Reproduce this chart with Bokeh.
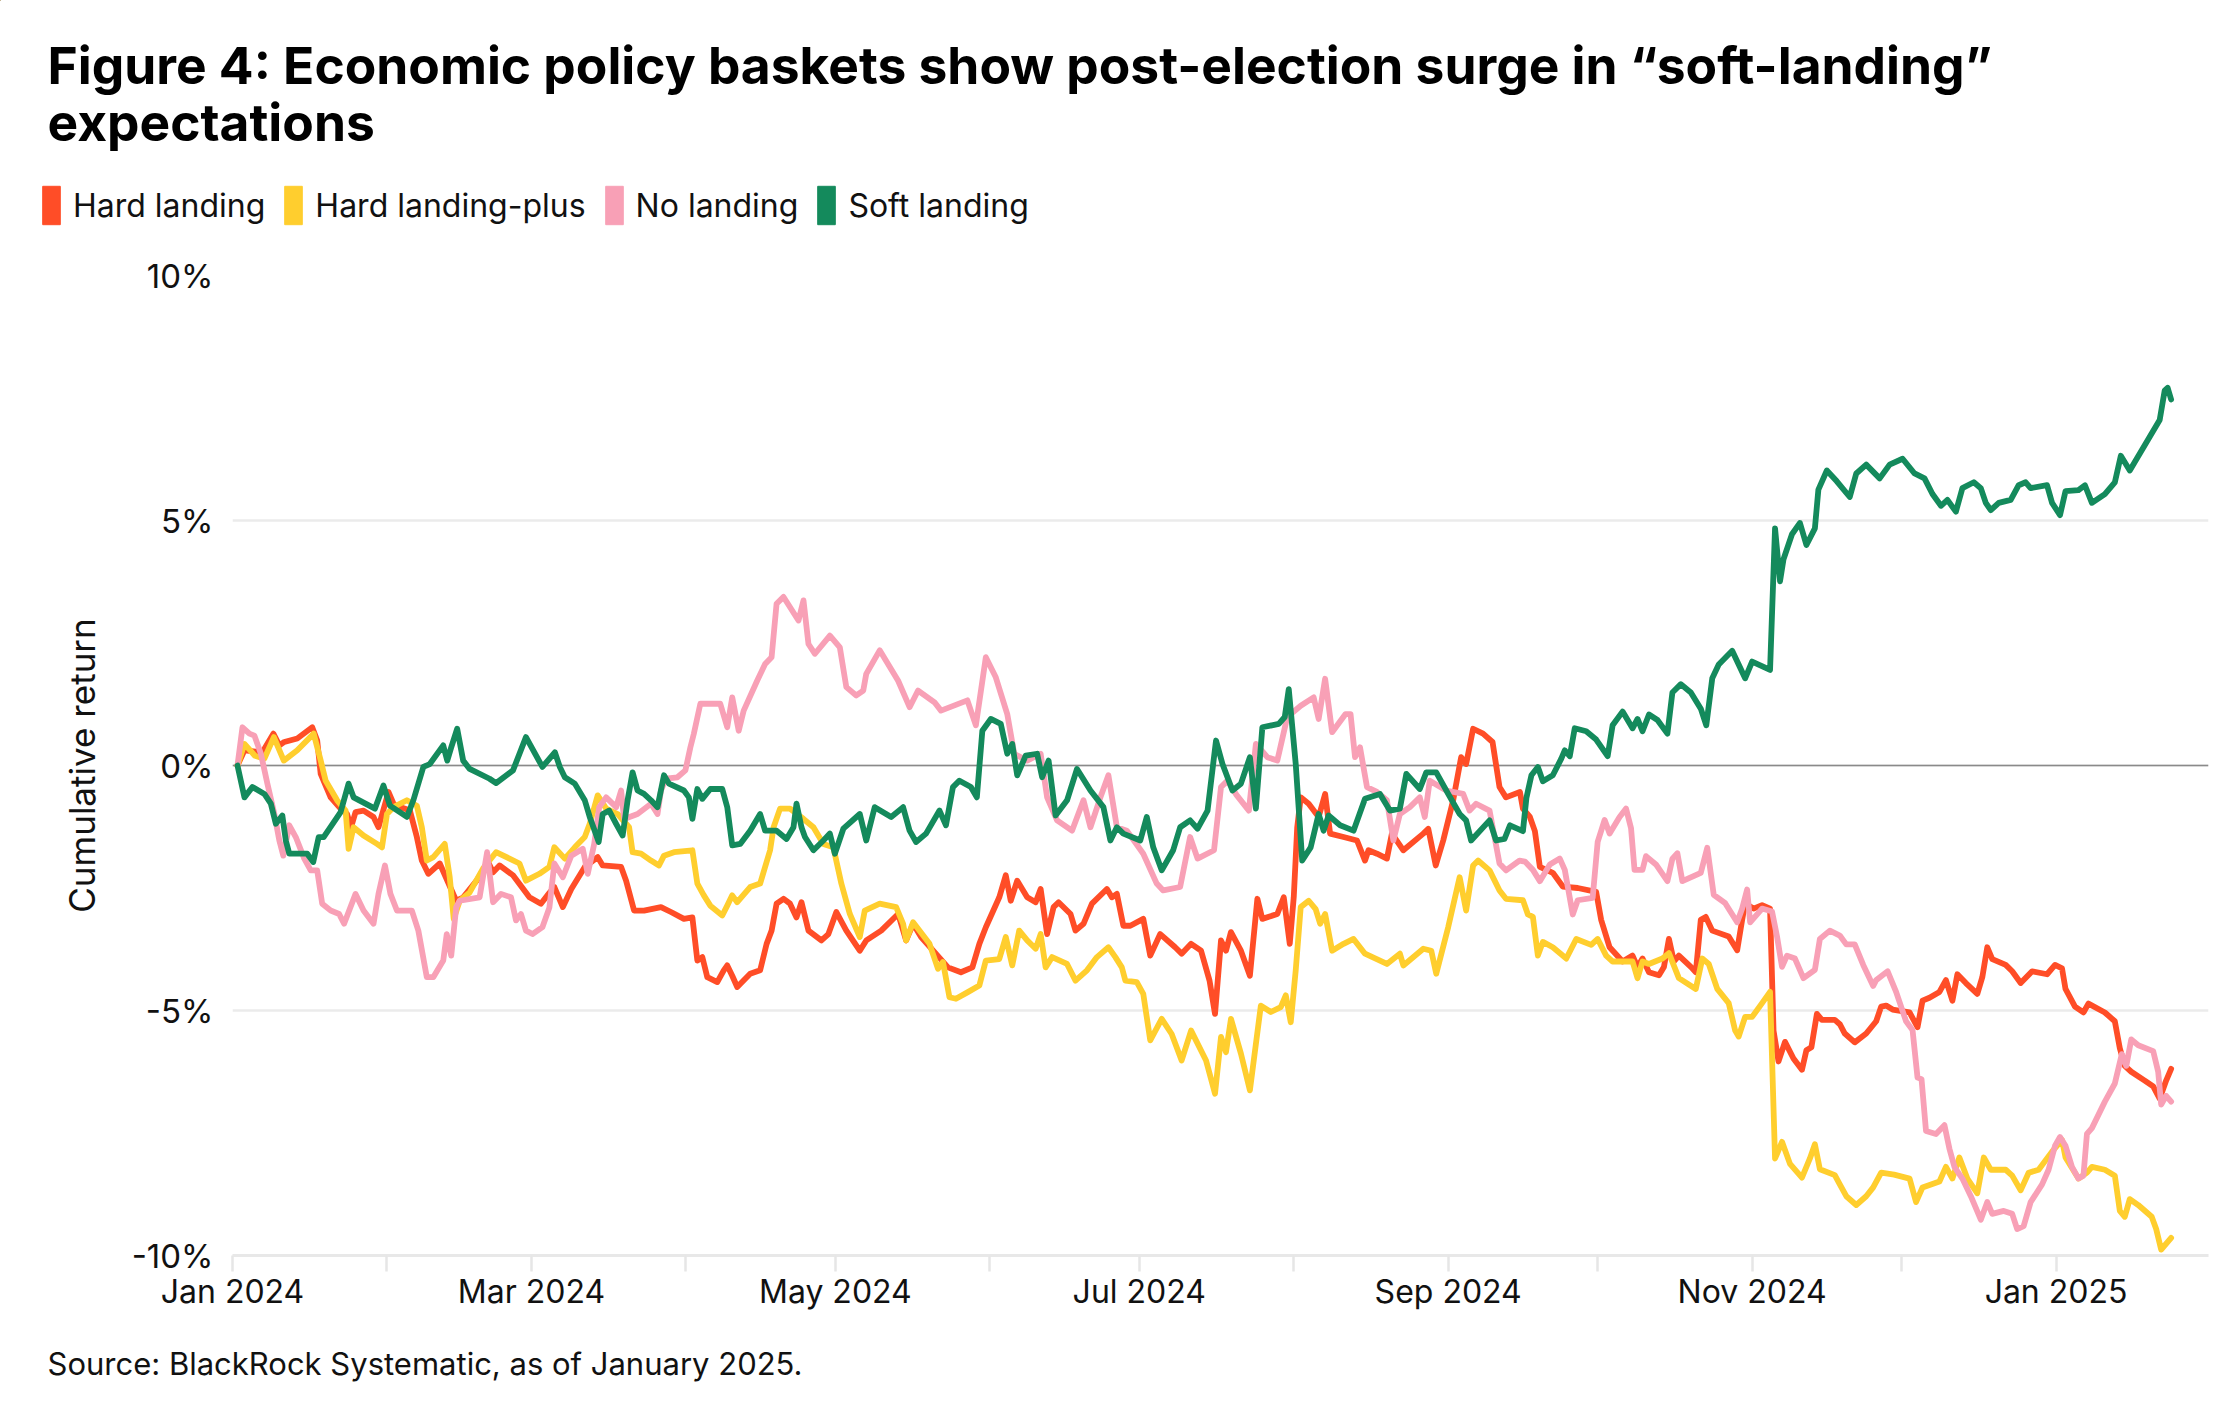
import pandas as pd
from bokeh.plotting import figure
from bokeh.layouts import column
from bokeh.models import (Range1d, FixedTicker, DatetimeTickFormatter, PrintfTickFormatter,
                          Span, Label, Legend, LegendItem, ColumnDataSource)
from bokeh.embed import file_html
from bokeh.resources import INLINE

# ---------------- data: (days since 2024-01-01, cumulative return %) ----------------
hard_landing = [
    (1, 0.0), (2.4, 0.31), (6.0, 0.27), (8.2, 0.65), (9.4, 0.41), (10.4, 0.48), (13, 0.55), (16.0, 0.78),
    (17.0, 0.51), (17.7, -0.17), (19.7, -0.65), (21.7, -0.88), (23.0, -0.99), (23.8, -1.26), (24.7, -0.95),
    (26.3, -0.92), (28.3, -1.05), (29.3, -1.26), (31.3, -0.54), (32.4, -0.8), (35.6, -0.92), (37.0, -1.46),
    (38.0, -1.94), (39.3, -2.21), (41.6, -2.0), (44.9, -2.76), (46.3, -2.69), (49.0, -2.35), (51.3, -1.97),
    (52.3, -2.18), (53.6, -2.04), (56.3, -2.24), (59.6, -2.69), (61.9, -2.82), (63.6, -2.6), (64.6, -2.48),
    (66.3, -2.89), (68.0, -2.52), (70.7, -2.07), (73.3, -1.87), (74.3, -2.04), (78.0, -2.07), (79.0, -2.35),
    (80.6, -2.96), (82.6, -2.96), (86.0, -2.89), (88.0, -2.99), (90.6, -3.13), (92.3, -3.1), (93.3, -3.98),
    (94.3, -3.91), (95.3, -4.32), (97.3, -4.42), (98.6, -4.18), (99.3, -4.08), (100.3, -4.29), (101.3, -4.52),
    (103.9, -4.25), (105.9, -4.18), (107.2, -3.64), (108.2, -3.37), (109.2, -2.82), (110.6, -2.72),
    (111.9, -2.82), (113.2, -3.1), (114.2, -2.79), (115.6, -3.37), (118.2, -3.57), (119.6, -3.44),
    (121.2, -2.99), (123.2, -3.37), (125.9, -3.78), (127.2, -3.57), (130.2, -3.37), (133.6, -3.03),
    (135.2, -3.57), (136.6, -3.23), (138.2, -3.5), (140.9, -3.81), (143.6, -4.12), (146.2, -4.22),
    (148.5, -4.12), (149.9, -3.64), (151.2, -3.3), (153.9, -2.69), (155.2, -2.24), (156.2, -2.76),
    (157.5, -2.35), (159.5, -2.69), (161.2, -2.79), (162.2, -2.52), (163.5, -3.44), (164.8, -2.89),
    (165.8, -2.79), (168.2, -3.03), (169.2, -3.37), (170.8, -3.23), (172.5, -2.82), (175.5, -2.52),
    (176.5, -2.69), (177.5, -2.62), (178.8, -3.27), (180.2, -3.27), (182.8, -3.13), (184.2, -3.88),
    (186.2, -3.44), (189.2, -3.71), (190.5, -3.84), (192.4, -3.64), (194.4, -3.78), (196.1, -4.39),
    (197.2, -5.07), (198.4, -3.57), (199.4, -3.78), (200.4, -3.4), (202.4, -3.78), (204.2, -4.29),
    (205.7, -2.72), (206.7, -3.13), (209.7, -3.03), (211.0, -2.69), (212.2, -3.64), (213.0, -2.69),
    (213.7, -1.26), (214.4, -0.65), (216.0, -0.78), (218.0, -1.05), (219.3, -0.58), (220.3, -1.39),
    (223.0, -1.46), (225.7, -1.53), (227.3, -1.94), (228.0, -1.73), (229.7, -1.8), (231.7, -1.9),
    (232.7, -1.39), (235.0, -1.73), (239.0, -1.39), (240.0, -1.29), (241.5, -2.04), (243.0, -1.53),
    (245.0, -0.71), (246.6, 0.17), (247.6, 0.03), (249.0, 0.75), (251.0, 0.65), (252.9, 0.48),
    (254.3, -0.44), (255.6, -0.65), (258.4, -0.54), (259.0, -0.88), (260.4, -1.05), (261.4, -1.34),
    (262.4, -2.07), (265.0, -2.19), (267.0, -2.47), (270.0, -2.5), (273.7, -2.58), (274.7, -3.15),
    (276.4, -3.71), (279.0, -4.0), (281.0, -3.88), (282.0, -4.11), (283.0, -3.94), (284.3, -4.22),
    (286.3, -4.28), (287.3, -4.11), (288.3, -3.54), (289.3, -4.0), (290.3, -3.88), (292.7, -4.11),
    (293.7, -4.22), (294.7, -3.15), (295.7, -3.09), (297.0, -3.37), (300.3, -3.49), (302.0, -3.77),
    (303.0, -3.15), (303.6, -2.81), (305.3, -2.92), (307.0, -2.85), (308.6, -2.92), (309.3, -5.41),
    (310.3, -6.04), (311.6, -5.64), (313.3, -5.98), (315.0, -6.21), (315.9, -5.81), (316.9, -5.75),
    (318.0, -5.07), (319.0, -5.19), (321.6, -5.19), (322.6, -5.28), (323.6, -5.47), (325.6, -5.65),
    (327.9, -5.47), (329.9, -5.22), (330.9, -4.92), (331.9, -4.9), (333.2, -4.98), (336.6, -5.04),
    (338.2, -5.34), (339.2, -4.8), (340.6, -4.74), (342.6, -4.62), (343.9, -4.38), (345.2, -4.8),
    (346.2, -4.26), (347.9, -4.44), (350.2, -4.66), (351.2, -4.32), (352.2, -3.71), (353.2, -3.95),
    (355.9, -4.07), (357.2, -4.2), (358.9, -4.44), (361.2, -4.2), (364.2, -4.26), (365.8, -4.07),
    (367.2, -4.14), (367.9, -4.56), (369.8, -4.92), (371.5, -5.04), (372.5, -4.86), (375.8, -5.04),
    (377.8, -5.22), (378.8, -5.77), (379.8, -6.13), (381.1, -6.25), (383.8, -6.43), (385.5, -6.55),
    (386.8, -6.8), (388.1, -6.43), (389.1, -6.19),
]

hard_landing_plus = [
    (1, 0.0), (2.4, 0.44), (4.5, 0.2), (6.4, 0.14), (8.3, 0.58), (10.3, 0.1), (13.0, 0.31), (16.3, 0.65),
    (17.7, 0.1), (18.7, -0.31), (21.0, -0.71), (22.7, -0.92), (23.3, -1.7), (24.3, -1.26), (26.3, -1.43),
    (29.0, -1.6), (30.0, -1.67), (31.0, -0.99), (32.3, -0.85), (35.0, -0.71), (37.0, -0.82), (38.0, -1.26),
    (39.0, -1.94), (40.3, -1.87), (42.6, -1.6), (43.6, -2.28), (44.4, -3.13), (45.6, -2.76), (47.6, -2.59),
    (50.3, -2.1), (52.9, -1.77), (55.6, -1.9), (57.6, -2.0), (58.9, -2.35), (61.6, -2.21), (63.6, -2.07),
    (64.6, -1.67), (66.7, -1.9), (68.7, -1.67), (70.7, -1.46), (71.7, -1.19), (73.3, -0.61), (75.0, -0.88),
    (77.3, -0.99), (79.6, -1.26), (80.3, -1.77), (82.0, -1.8), (84.0, -1.94), (85.6, -2.04), (86.6, -1.84),
    (88.6, -1.77), (92.3, -1.73), (93.3, -2.41), (94.6, -2.65), (95.9, -2.86), (98.3, -3.06), (99.3, -2.86),
    (100.3, -2.65), (101.3, -2.79), (103.9, -2.48), (105.9, -2.41), (107.9, -1.73), (108.6, -1.26),
    (109.9, -0.88), (111.9, -0.88), (114.6, -1.09), (116.6, -1.26), (118.6, -1.6), (120.6, -1.67),
    (122.2, -2.41), (123.9, -3.03), (125.9, -3.5), (126.9, -2.96), (129.9, -2.82), (133.2, -2.89),
    (134.6, -3.23), (135.2, -3.57), (136.6, -3.2), (139.9, -3.64), (141.6, -4.15), (142.6, -4.01),
    (143.9, -4.73), (145.2, -4.76), (147.5, -4.63), (149.9, -4.49), (151.2, -3.98), (153.9, -3.95),
    (155.2, -3.5), (156.5, -4.08), (157.9, -3.37), (159.5, -3.57), (161.2, -3.74), (162.2, -3.44),
    (163.2, -4.12), (164.5, -3.91), (167.5, -4.05), (169.2, -4.39), (171.5, -4.18), (173.5, -3.91),
    (175.8, -3.71), (177.2, -3.91), (178.5, -4.12), (179.2, -4.39), (181.5, -4.42), (182.8, -4.66),
    (184.2, -5.61), (186.5, -5.17), (188.5, -5.48), (190.5, -6.02), (192.4, -5.41), (195.4, -6.02),
    (197.2, -6.7), (198.4, -5.54), (199.4, -5.85), (200.4, -5.17), (202.4, -5.88), (204.2, -6.63),
    (206.4, -4.9), (208.4, -5.03), (210.4, -4.93), (211.4, -4.69), (212.4, -5.24), (213.4, -4.18),
    (214.4, -2.89), (216.0, -2.76), (217.4, -2.93), (218.3, -3.23), (219.3, -3.03), (220.7, -3.78),
    (223.0, -3.64), (225.0, -3.54), (227.3, -3.84), (231.7, -4.05), (234.3, -3.84), (235.0, -4.08),
    (239.0, -3.74), (240.6, -3.78), (241.6, -4.25), (244.0, -3.3), (246.3, -2.28), (247.6, -2.96),
    (249.0, -2.04), (250.0, -1.94), (252.3, -2.14), (254.3, -2.55), (255.6, -2.72), (259.0, -2.75),
    (260.0, -3.04), (261.0, -3.09), (262.0, -3.88), (263.0, -3.6), (265.0, -3.71), (267.7, -3.94),
    (269.7, -3.54), (272.7, -3.66), (274.0, -3.54), (275.7, -3.88), (277.0, -4.0), (281.0, -4.0),
    (282.0, -4.34), (283.0, -4.0), (284.3, -4.05), (287.0, -3.94), (288.3, -3.83), (290.3, -4.34),
    (293.7, -4.56), (295.0, -3.94), (296.3, -4.05), (298.0, -4.56), (300.3, -4.85), (301.6, -5.41),
    (302.3, -5.53), (303.6, -5.13), (305.0, -5.13), (307.0, -4.85), (308.6, -4.62), (309.6, -8.02),
    (311.0, -7.68), (312.6, -8.13), (315.0, -8.41), (316.6, -8.02), (317.6, -7.73), (318.6, -8.24),
    (321.6, -8.36), (322.6, -8.55), (323.9, -8.79), (325.9, -8.97), (327.9, -8.79), (329.3, -8.61),
    (330.9, -8.31), (333.5, -8.35), (336.6, -8.43), (337.9, -8.91), (339.2, -8.61), (342.6, -8.49),
    (343.9, -8.19), (345.2, -8.43), (346.6, -8.0), (348.2, -8.43), (350.2, -8.73), (351.5, -8.0),
    (352.9, -8.25), (355.9, -8.25), (357.2, -8.37), (358.9, -8.67), (360.5, -8.31), (362.5, -8.25),
    (365.2, -7.88), (367.2, -7.64), (367.9, -8.0), (370.5, -8.43), (372.2, -8.31), (373.2, -8.19),
    (375.8, -8.25), (377.8, -8.37), (378.8, -9.09), (379.8, -9.21), (380.8, -8.85), (382.5, -8.97),
    (385.2, -9.21), (386.1, -9.46), (387.1, -9.88), (389.1, -9.64),
]

no_landing = [
    (1, 0.0), (2.0, 0.78), (3.4, 0.65), (4.4, 0.61), (5.7, 0.24), (7.0, -0.37), (8.4, -0.99), (9.4, -1.53),
    (10.2, -1.84), (11.4, -1.22), (12.7, -1.46), (14.4, -1.9), (15.7, -2.14), (17.0, -2.14), (18.0, -2.82),
    (19.7, -2.96), (21.4, -3.03), (22.4, -3.23), (24.7, -2.62), (26.3, -2.96), (28.3, -3.23), (29.3, -2.62),
    (30.6, -2.04), (31.7, -2.62), (33.0, -2.96), (36.0, -2.96), (37.3, -3.37), (39.0, -4.32), (40.3, -4.32),
    (42.3, -3.98), (43.0, -3.44), (43.9, -3.88), (44.9, -2.89), (45.6, -2.76), (49.6, -2.69), (51.1, -1.77),
    (52.3, -2.79), (53.9, -2.62), (55.9, -2.69), (56.9, -3.16), (57.9, -3.03), (58.9, -3.37), (60.2, -3.44),
    (62.2, -3.3), (63.6, -2.9), (64.6, -2.0), (66.3, -2.28), (68.0, -1.84), (70.3, -1.7), (71.3, -2.21),
    (72.6, -1.6), (73.6, -0.85), (75.0, -0.65), (77.0, -0.85), (78.0, -0.51), (78.6, -1.09), (81.3, -0.99),
    (84.0, -0.78), (85.3, -0.99), (86.0, -0.51), (87.0, -0.27), (89.3, -0.24), (90.9, -0.1), (91.9, 0.37),
    (92.6, 0.65), (93.9, 1.26), (97.9, 1.26), (99.3, 0.78), (100.3, 1.39), (101.6, 0.71), (102.6, 1.12),
    (105.3, 1.73), (106.9, 2.07), (108.2, 2.21), (109.2, 3.3), (110.6, 3.44), (113.6, 2.96), (114.6, 3.37),
    (115.6, 2.48), (116.9, 2.28), (119.9, 2.65), (121.9, 2.41), (123.2, 1.6), (125.2, 1.43), (126.6, 1.53),
    (127.2, 1.87), (129.9, 2.35), (133.6, 1.73), (135.9, 1.19), (137.6, 1.53), (140.9, 1.29), (142.2, 1.12),
    (147.5, 1.33), (149.2, 0.82), (151.2, 2.21), (153.2, 1.8), (155.5, 1.05), (156.9, 0.24), (159.5, 0.1),
    (162.2, 0.24), (163.5, -0.65), (165.5, -1.12), (168.5, -1.33), (170.8, -0.71), (172.2, -1.26),
    (174.2, -0.65), (175.8, -0.2), (177.5, -1.26), (179.5, -1.33), (182.8, -1.8), (185.5, -2.41),
    (186.8, -2.55), (190.2, -2.48), (192.2, -1.46), (193.7, -1.9), (197.0, -1.73), (198.4, -0.44),
    (199.7, -0.31), (201.5, -0.6), (204.0, -0.92), (205.4, 0.44), (207.7, 0.17), (209.7, 0.1), (211.7, 0.99),
    (214.4, 1.22), (217.0, 1.39), (218.0, 0.95), (219.3, 1.77), (220.7, 0.68), (223.4, 1.05), (224.4, 1.05),
    (225.3, 0.17), (226.3, 0.37), (227.7, -0.44), (229.7, -0.54), (231.7, -0.71), (233.0, -1.53),
    (234.3, -0.99), (236.3, -0.85), (238.3, -0.65), (239.3, -1.05), (240.3, -0.31), (243.6, -0.51),
    (247.0, -0.58), (248.3, -0.92), (249.6, -0.78), (252.3, -0.92), (254.3, -2.0), (255.6, -2.14),
    (258.3, -1.94), (259.4, -1.96), (261.0, -2.13), (262.4, -2.36), (264.4, -2.02), (266.4, -1.9),
    (267.4, -2.13), (269.0, -3.04), (270.0, -2.75), (273.0, -2.7), (274.0, -1.56), (275.4, -1.11),
    (276.4, -1.39), (278.4, -1.05), (279.7, -0.88), (280.7, -1.28), (281.4, -2.13), (283.0, -2.13),
    (283.7, -1.85), (285.7, -2.02), (288.0, -2.36), (289.0, -1.9), (290.0, -1.79), (291.0, -2.36),
    (294.7, -2.19), (296.0, -1.68), (297.3, -2.64), (299.6, -2.81), (302.0, -3.2), (303.0, -2.92),
    (304.0, -2.53), (304.6, -3.2), (307.0, -2.92), (309.0, -2.98), (310.0, -3.49), (311.0, -4.11),
    (312.0, -3.88), (313.6, -3.94), (315.3, -4.34), (317.6, -4.17), (318.6, -3.54), (320.6, -3.37),
    (322.6, -3.47), (323.9, -3.65), (325.6, -3.65), (327.3, -4.07), (329.3, -4.5), (329.9, -4.38),
    (332.2, -4.2), (333.9, -4.62), (335.9, -5.22), (337.2, -5.4), (338.2, -6.37), (339.0, -6.4),
    (339.9, -7.46), (341.9, -7.52), (343.6, -7.34), (344.6, -7.82), (345.6, -8.19), (347.2, -8.43),
    (348.9, -8.79), (350.9, -9.27), (352.2, -8.91), (353.2, -9.15), (355.5, -9.09), (357.2, -9.15),
    (358.2, -9.46), (359.5, -9.4), (360.9, -8.91), (363.2, -8.55), (364.5, -8.25), (365.8, -7.76),
    (366.8, -7.58), (367.9, -7.76), (369.2, -8.19), (370.5, -8.43), (371.5, -8.37), (372.2, -7.52),
    (373.2, -7.4), (375.8, -6.86), (377.8, -6.49), (379.2, -5.89), (380.1, -6.13), (381.1, -5.59),
    (382.5, -5.71), (385.5, -5.83), (386.5, -6.25), (387.1, -6.92), (388.1, -6.74), (389.1, -6.86),
]

soft_landing = [
    (1, 0.0), (2.4, -0.65), (4.0, -0.44), (6.4, -0.58), (7.7, -0.78), (8.7, -1.19), (10.0, -1.02),
    (10.7, -1.53), (11.4, -1.8), (15.0, -1.8), (16.2, -1.97), (17.3, -1.46), (18.3, -1.46), (21.7, -0.95),
    (23.3, -0.37), (24.3, -0.65), (28.6, -0.88), (30.3, -0.41), (31.6, -0.82), (35.0, -1.05), (36.3, -0.71),
    (38.3, -0.03), (39.6, 0.03), (42.3, 0.41), (43.1, 0.1), (43.9, 0.37), (45.1, 0.75), (46.3, 0.1),
    (47.6, -0.07), (51.6, -0.27), (52.9, -0.36), (56.3, -0.1), (58.9, 0.58), (62.2, -0.03), (64.7, 0.27),
    (65.7, -0.03), (66.7, -0.24), (68.7, -0.37), (70.7, -0.71), (71.7, -1.05), (73.5, -1.56), (74.3, -0.99),
    (75.6, -0.92), (77.0, -1.19), (78.3, -1.43), (79.3, -0.71), (80.3, -0.14), (81.3, -0.51), (82.6, -0.58),
    (84.0, -0.71), (85.3, -0.85), (86.6, -0.2), (87.6, -0.37), (90.6, -0.51), (91.6, -0.65), (92.3, -1.09),
    (93.3, -0.48), (94.3, -0.68), (95.9, -0.48), (98.3, -0.48), (99.3, -0.85), (100.3, -1.63),
    (101.9, -1.6), (103.9, -1.33), (105.9, -0.99), (106.9, -1.33), (109.2, -1.33), (111.2, -1.5),
    (112.6, -1.26), (113.2, -0.78), (114.2, -1.26), (114.9, -1.46), (116.6, -1.73), (118.6, -1.53),
    (119.9, -1.39), (120.9, -1.8), (122.6, -1.29), (125.9, -0.99), (127.2, -1.53), (128.9, -0.85),
    (132.2, -1.05), (134.6, -0.85), (135.9, -1.33), (137.2, -1.56), (139.2, -1.39), (141.9, -0.92),
    (143.2, -1.22), (144.6, -0.44), (145.9, -0.31), (148.2, -0.44), (149.4, -0.65), (150.5, 0.71),
    (152.2, 0.95), (154.2, 0.85), (155.5, 0.24), (156.5, 0.44), (157.5, -0.2), (159.2, 0.2), (161.5, 0.24),
    (162.5, -0.24), (163.8, 0.1), (165.2, -1.02), (167.5, -0.71), (169.5, -0.07), (172.2, -0.51),
    (174.8, -0.85), (176.2, -1.53), (177.5, -1.26), (178.8, -1.39), (182.2, -1.53), (183.5, -1.05),
    (184.8, -1.67), (186.5, -2.14), (188.8, -1.73), (190.2, -1.26), (192.2, -1.12), (193.7, -1.29),
    (195.7, -0.92), (197.4, 0.51), (198.7, 0.03), (200.7, -0.51), (202.4, -0.37), (204.2, 0.17),
    (205.4, -0.88), (206.7, 0.78), (210.0, 0.85), (211.2, 0.99), (212.0, 1.56), (213.4, 0.03),
    (214.7, -1.94), (216.4, -1.67), (218.0, -0.99), (219.0, -1.33), (220.0, -1.02), (222.3, -1.22),
    (225.0, -1.33), (227.3, -0.68), (230.3, -0.58), (232.3, -0.92), (234.3, -0.88), (235.6, -0.17),
    (238.3, -0.48), (239.6, -0.14), (241.6, -0.14), (244.0, -0.58), (246.3, -0.99), (247.6, -1.12),
    (248.6, -1.53), (252.3, -1.12), (253.6, -1.53), (255.3, -1.5), (256.4, -1.22), (259.0, -1.34),
    (259.7, -0.66), (260.7, -0.2), (262.0, -0.03), (263.0, -0.32), (265.0, -0.2), (266.7, 0.14),
    (267.4, 0.31), (268.4, 0.19), (269.4, 0.76), (271.7, 0.7), (273.7, 0.53), (276.0, 0.19), (277.0, 0.82),
    (279.0, 1.1), (281.0, 0.76), (282.0, 0.95), (283.0, 0.7), (284.3, 1.04), (286.0, 0.93), (288.0, 0.65),
    (289.0, 1.49), (290.7, 1.66), (292.7, 1.49), (294.7, 1.16), (295.8, 0.82), (297.0, 1.78), (298.3, 2.06),
    (301.0, 2.34), (302.3, 2.06), (303.6, 1.78), (305.0, 2.12), (308.6, 1.95), (309.6, 4.84), (310.6, 3.76),
    (311.3, 4.21), (313.0, 4.72), (314.6, 4.95), (315.9, 4.5), (317.6, 4.84), (318.3, 5.63), (320.0, 6.02),
    (322.0, 5.8), (324.6, 5.48), (325.9, 5.96), (327.9, 6.14), (330.6, 5.86), (332.6, 6.14), (335.2, 6.26),
    (337.6, 5.96), (339.6, 5.86), (341.2, 5.54), (342.9, 5.3), (344.2, 5.42), (345.9, 5.18), (347.2, 5.66),
    (349.5, 5.78), (350.9, 5.66), (351.9, 5.36), (352.9, 5.21), (354.5, 5.36), (356.9, 5.42), (358.5, 5.72),
    (359.9, 5.78), (360.9, 5.66), (364.2, 5.72), (365.2, 5.36), (366.8, 5.11), (367.9, 5.6), (370.5, 5.62),
    (371.8, 5.72), (373.2, 5.36), (375.8, 5.54), (377.8, 5.78), (379.0, 6.32), (380.8, 6.02), (386.8, 7.05),
    (387.8, 7.65), (388.4, 7.71), (389.1, 7.47),
]

series_names = ["Hard landing", "Hard landing-plus", "No landing", "Soft landing"]
series_data = [hard_landing, hard_landing_plus, no_landing, soft_landing]
series_colors = ["#FF4D27", "#FFCE2E", "#F8A0B6", "#148A5C"]

y_ticks = [-10, -5, 0, 5, 10]
month_starts = pd.date_range("2024-01-01", "2025-01-01", freq="MS")

title_lines = ["Figure 4: Economic policy baskets show post-election surge in \u201csoft-landing\u201d",
               "expectations"]
y_label = "Cumulative return"
source_text = "Source: BlackRock Systematic, as of January 2025."

FONT = "Inter"
W = 2228
TEXT = "#111111"


def blank_fig(h):
    f = figure(width=W, height=h, output_backend="svg", toolbar_location=None,
               x_range=Range1d(0, W), y_range=Range1d(h, 0),
               x_axis_location=None, y_axis_location=None,
               min_border=0, min_border_left=0, min_border_right=0,
               min_border_top=0, min_border_bottom=0)
    f.frame_align = False
    f.outline_line_color = None
    f.grid.visible = False
    f.background_fill_color = "white"
    f.border_fill_color = "white"
    return f


# ---------------- header: title + legend ----------------
TOP_H = 230
top = blank_fig(TOP_H)
for i, line in enumerate(title_lines):
    top.add_layout(Label(x=47, y=64 + 57 * i, text=line, text_font=FONT, text_font_size="51.5px",
                         text_font_style="bold", text_baseline="middle", text_color="#000000"))
swatch_src = ColumnDataSource(data=dict(x=[-5000], top=[-5000]))
items = []
for name, color in zip(series_names, series_colors):
    g = top.vbar(x="x", top="top", width=1, source=swatch_src, fill_color=color, line_color=color)
    items.append(LegendItem(label=name, renderers=[g]))
legend = Legend(items=items, orientation="horizontal", location=(40, TOP_H - 229),
                glyph_width=22, glyph_height=48, label_height=48, label_standoff=11, spacing=17,
                padding=0, margin=0, border_line_alpha=0, background_fill_alpha=0,
                label_text_font=FONT, label_text_font_size="32px", label_text_color=TEXT)
top.add_layout(legend, "center")

# ---------------- main chart ----------------
base = pd.Timestamp("2024-01-01")
MAIN_H = 1100
p = figure(width=W, height=MAIN_H, x_axis_type="datetime", output_backend="svg",
           toolbar_location=None, min_border_left=232, min_border_right=W - 2208,
           min_border_top=275 - TOP_H, min_border_bottom=TOP_H + MAIN_H - 1255)
p.frame_align = False
p.x_range = Range1d(base, base + pd.Timedelta(days=396.6))
p.y_range = Range1d(-10, 10)
p.outline_line_color = None
p.background_fill_color = "white"
p.border_fill_color = "white"

for name, data, color in zip(series_names, series_data, series_colors):
    xs = [base + pd.Timedelta(days=d) for d, _ in data]
    ys = [v for _, v in data]
    p.line(xs, ys, line_color=color, line_width=5.8, line_join="round", line_cap="round")

ms_ticks = [t.value / 1e6 for t in month_starts]
p.xaxis.ticker = FixedTicker(ticks=ms_ticks[::2], minor_ticks=ms_ticks[1::2])
p.xaxis.formatter = DatetimeTickFormatter(days="%b %Y", months="%b %Y", years="%b %Y")
p.xaxis.axis_line_color = "#e8e8e8"
p.xaxis.axis_line_width = 3
p.xaxis.major_tick_line_color = "#e6e6e6"
p.xaxis.minor_tick_line_color = "#e6e6e6"
p.xaxis.major_tick_line_width = 2.5
p.xaxis.minor_tick_line_width = 2.5
p.xaxis.major_tick_in = 0
p.xaxis.minor_tick_in = 0
p.xaxis.major_tick_out = 16
p.xaxis.minor_tick_out = 16
p.xaxis.major_label_standoff = 0
p.xaxis.major_label_text_font = FONT
p.xaxis.major_label_text_font_size = "32px"
p.xaxis.major_label_text_color = TEXT

p.yaxis.ticker = FixedTicker(ticks=y_ticks)
p.yaxis.formatter = PrintfTickFormatter(format="%d%%")
p.yaxis.axis_line_color = None
p.yaxis.major_tick_line_color = None
p.yaxis.minor_tick_line_color = None
p.yaxis.major_label_standoff = 13
p.yaxis.major_label_text_font = FONT
p.yaxis.major_label_text_font_size = "33px"
p.yaxis.major_label_text_color = TEXT
p.yaxis.axis_label = y_label
p.yaxis.axis_label_text_font = FONT
p.yaxis.axis_label_text_font_size = "35px"
p.yaxis.axis_label_text_font_style = "normal"
p.yaxis.axis_label_text_color = TEXT
p.yaxis.axis_label_standoff = 26

p.xgrid.grid_line_color = None
p.ygrid.grid_line_color = "#ebebeb"
p.ygrid.grid_line_width = 2.5
p.add_layout(Span(location=0, dimension="width", line_color="#8a8a8a", line_width=1.5, level="underlay"))

# ---------------- footer: source ----------------
BOT_H = 1420 - TOP_H - MAIN_H
bot = blank_fig(BOT_H)
bot.add_layout(Label(x=47, y=1363 - TOP_H - MAIN_H, text=source_text, text_font=FONT,
                     text_font_size="31px", text_baseline="middle", text_color=TEXT))

layout = column(top, p, bot, spacing=0)
open("out.html", "w").write(file_html(layout, INLINE))
